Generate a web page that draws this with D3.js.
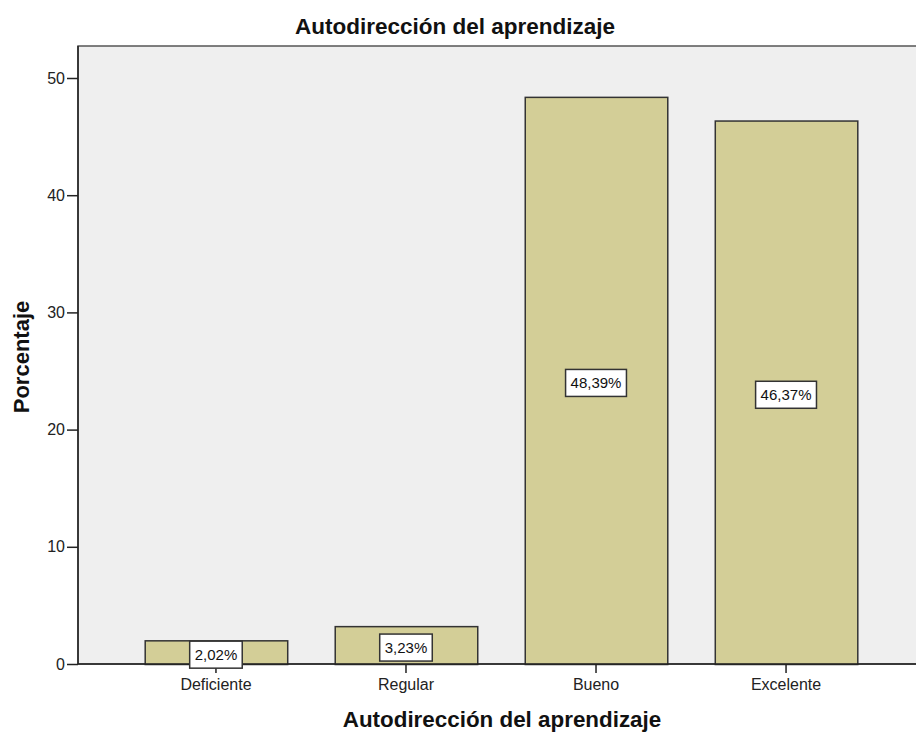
<!DOCTYPE html>
<html>
<head>
<meta charset="utf-8">
<script src="https://cdn.jsdelivr.net/npm/d3@7"></script>
<style>
	body { margin: 0; background: #fff; }
	svg { display: block; font-family: 'Liberation Sans', Arial, sans-serif; }
</style>
</head>
<body>
<div class="chart"></div>
<script>
// data
const categories = ['Deficiente', 'Regular', 'Bueno', 'Excelente'];
const percentages = [2.02, 3.23, 48.39, 46.37];
const barLabels = ['2,02%', '3,23%', '48,39%', '46,37%'];
const yTicks = [0, 10, 20, 30, 40, 50];

const chartTitle = 'Autodirección del aprendizaje';
const xTitle = 'Autodirección del aprendizaje';
const yTitle = 'Porcentaje';

// layout
const svgWidth = 916;
const svgHeight = 734;
const plot = { left: 78, right: 924, top: 46, bottom: 664 };

const svg = d3
	.select('.chart')
	.append('svg')
	.attr('width', svgWidth)
	.attr('height', svgHeight);

const x = d3
	.scaleBand()
	.domain(categories)
	.range([ plot.left, plot.right ])
	.paddingInner(0.25)
	.paddingOuter(0.351);

// 50 sits at y=78, 0 at y=664
const y = d3.scaleLinear().domain([ 0, 50 ]).range([ plot.bottom, 78 ]);

// plot background
svg
	.append('rect')
	.attr('x', plot.left)
	.attr('y', plot.top)
	.attr('width', plot.right - plot.left)
	.attr('height', plot.bottom - plot.top)
	.attr('fill', '#efefef')
	.attr('stroke', '#555')
	.attr('stroke-width', 1.5);

// bars
svg
	.selectAll('.bar')
	.data(percentages)
	.enter()
	.append('rect')
	.attr('class', 'bar')
	.attr('x', (d, i) => x(categories[i]) + 0.5)
	.attr('y', (d) => y(d) + 0.5)
	.attr('width', x.bandwidth())
	.attr('height', (d) => y(0) - y(d))
	.attr('fill', '#d3ce97')
	.attr('stroke', '#333')
	.attr('stroke-width', 1.5);

// axes
const yAxis = d3.axisLeft(y).tickValues(yTicks).tickSize(11).tickPadding(2).tickSizeOuter(0);
const yG = svg.append('g').attr('transform', 'translate(' + plot.left + ',0)').call(yAxis);

const xAxis = d3.axisBottom(x).tickSize(9).tickPadding(6).tickSizeOuter(0);
const xG = svg.append('g').attr('transform', 'translate(0,' + plot.bottom + ')').call(xAxis);

[ yG, xG ].forEach((g) => {
	g.select('.domain').attr('stroke', '#222').attr('stroke-width', 1.5);
	g.selectAll('.tick line').attr('stroke', '#222').attr('stroke-width', 1.5);
	g.selectAll('.tick text').attr('fill', '#222').style('font-size', '16px');
});
yG.select('.domain').attr('d', 'M0,' + plot.top + 'V' + plot.bottom);
xG.select('.domain').attr('d', 'M' + plot.left + ',0H' + plot.right);

// value labels in boxes
const labelG = svg
	.selectAll('.value-label')
	.data(percentages)
	.enter()
	.append('g')
	.attr('class', 'value-label')
	.attr('transform', (d, i) => 'translate(' + (x(categories[i]) + x.bandwidth() / 2) + ',' + ((y(0) + y(d)) / 2 + 2.5) + ')');

labelG
	.append('text')
	.attr('text-anchor', 'middle')
	.attr('dy', '0.36em')
	.style('font-size', '15px')
	.attr('fill', '#111')
	.text((d, i) => barLabels[i]);

labelG.each(function() {
	const g = d3.select(this);
	const bb = g.select('text').node().getBBox();
	g
		.insert('rect', 'text')
		.attr('x', bb.x - 5)
		.attr('y', -13.5)
		.attr('width', bb.width + 10)
		.attr('height', 27)
		.attr('fill', '#fff')
		.attr('stroke', '#333')
		.attr('stroke-width', 1.5);
});

// titles
svg
	.append('text')
	.attr('x', 455)
	.attr('y', 34)
	.attr('text-anchor', 'middle')
	.style('font-size', '22.5px')
	.style('font-weight', 'bold')
	.attr('fill', '#111')
	.text(chartTitle);

svg
	.append('text')
	.attr('x', 502)
	.attr('y', 727)
	.attr('text-anchor', 'middle')
	.style('font-size', '22.4px')
	.style('font-weight', 'bold')
	.attr('fill', '#111')
	.text(xTitle);

svg
	.append('text')
	.attr('transform', 'translate(29,357) rotate(-90)')
	.attr('text-anchor', 'middle')
	.style('font-size', '22px')
	.style('font-weight', 'bold')
	.attr('fill', '#111')
	.text(yTitle);
</script>
</body>
</html>
